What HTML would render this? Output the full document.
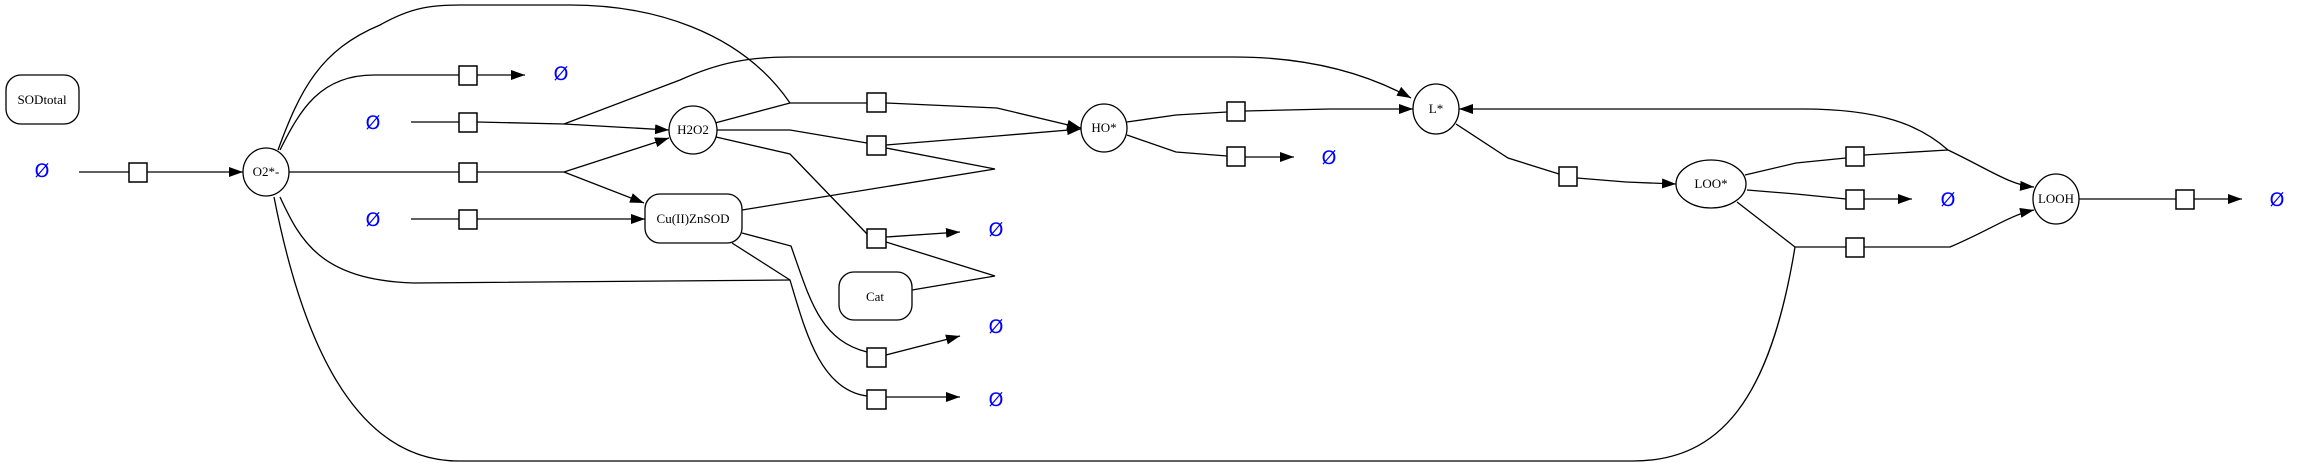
<!DOCTYPE html>
<html><head><meta charset="utf-8"><style>
html,body{margin:0;padding:0;background:#fff;}
svg{display:block;}
text{font-family:"Liberation Serif",serif;font-size:13px;}
.e{font-family:"DejaVu Sans","Liberation Sans",sans-serif;font-size:19px;fill:#0000ff;}
</style></head><body>
<svg width="2323" height="463" viewBox="0 0 2323 463" xmlns="http://www.w3.org/2000/svg">
<defs>
<marker id="a" viewBox="0 0 14 10" refX="14" refY="5" markerWidth="14" markerHeight="10" markerUnits="userSpaceOnUse" orient="auto">
<path d="M0,0 L14,5 L0,10 z" fill="#000"/></marker>
</defs>
<g fill="none" stroke="#000" stroke-width="1.3">
<!-- source to O2 -->
<path d="M79,172 L129,172 M146,172 L190,172"/>
<path d="M190,172 L243,172" marker-end="url(#a)"/>
<!-- O2 to top empty -->
<path d="M280,150 C300,110 320,75 374,75 L459,75 M477,75" />
<path d="M477,75 L525,75" marker-end="url(#a)"/>
<!-- empty to junction 564,124 -->
<path d="M411,122 L459,122 M477,122 L564,124"/>
<path d="M564,124 L669,130" marker-end="url(#a)"/>
<path d="M564,124 L680,80 C720,62 750,57 790,57 L1234,57 C1300,57 1360,70 1411,98" marker-end="url(#a)"/>
<!-- O2 to junction 564,172 -->
<path d="M289,172 L459,172 M477,172 L564,172"/>
<path d="M564,172 L669,138" marker-end="url(#a)"/>
<path d="M564,172 L644,203" marker-end="url(#a)"/>
<!-- empty to Cu box -->
<path d="M411,219 L459,219 M477,219 L560,219"/>
<path d="M560,219 L645,219" marker-end="url(#a)"/>
<!-- O2 top big curve -->
<path d="M278,150 C300,90 320,50 380,25 C410,8 430,5 460,5 L570,5 C650,5 740,30 790,103"/>
<!-- H2O2 to 790,103 -->
<path d="M715,123 L790,103 L867,103 M886,103 L997,108"/>
<path d="M997,108 L1081,128" marker-end="url(#a)"/>
<!-- H2O2 to 790,130 -->
<path d="M717,130 L790,130 L867,143 M886,145 L997,136"/>
<path d="M997,136 L1081,129" marker-end="url(#a)"/>
<path d="M886,148 L995,169 L742,210"/>
<!-- H2O2 lower -->
<path d="M716,137 L790,154 L868,235 M886,238"/>
<path d="M886,237 L960,232" marker-end="url(#a)"/>
<path d="M886,242 L995,276 L912,290"/>
<!-- Cu box to lower squares -->
<path d="M742,233 L791,246 C810,300 820,340 867,352 M886,355"/>
<path d="M886,355 L960,336" marker-end="url(#a)"/>
<path d="M280,197 C300,240 320,280 414,283 L790,280"/>
<path d="M732,243 L790,280 C805,330 820,390 867,396"/>
<path d="M886,397 L960,397" marker-end="url(#a)"/>
<!-- O2 bottom big curve -->
<path d="M274,197 C300,330 350,461 459,461 L1633,461 C1720,461 1770,400 1795,247"/>
<!-- HO* to L* -->
<path d="M1127,122 L1176,115 L1227,112 M1245,111 L1330,109"/>
<path d="M1330,109 L1413,109" marker-end="url(#a)"/>
<path d="M1127,135 L1176,152 L1227,156 M1245,157"/>
<path d="M1245,157 L1294,157" marker-end="url(#a)"/>
<!-- L* to LOO* -->
<path d="M1456,124 L1508,158 L1559,174 M1577,178 L1626,182"/>
<path d="M1626,182 L1676,184" marker-end="url(#a)"/>
<!-- LOO* outputs -->
<path d="M1745,175 L1796,163 L1846,158 M1864,155 L1948,150"/>
<path d="M1948,150 C1920,125 1880,109 1803,109 L1459,109" marker-end="url(#a)"/>
<path d="M1948,150 C1990,170 2010,185 2034,187" marker-end="url(#a)"/>
<path d="M1747,190 L1796,194 L1846,199 M1864,199"/>
<path d="M1864,199 L1912,199" marker-end="url(#a)"/>
<path d="M1737,202 L1795,247 L1846,247 M1864,247 L1950,247 C1990,230 2010,215 2034,210" marker-end="url(#a)"/>
<!-- LOOH out -->
<path d="M2079,199 L2176,199 M2194,199"/>
<path d="M2194,199 L2242,199" marker-end="url(#a)"/>
</g>
<!-- squares -->
<g fill="#fff" stroke="#000" stroke-width="1.5">
<rect x="129" y="163" width="18" height="19"/>
<rect x="459" y="66" width="18" height="19"/>
<rect x="459" y="113" width="18" height="19"/>
<rect x="459" y="163" width="18" height="19"/>
<rect x="459" y="210" width="18" height="19"/>
<rect x="867" y="93" width="19" height="19"/>
<rect x="867" y="136" width="19" height="19"/>
<rect x="867" y="229" width="19" height="19"/>
<rect x="867" y="348" width="19" height="19"/>
<rect x="867" y="390" width="19" height="19"/>
<rect x="1227" y="102" width="18" height="19"/>
<rect x="1227" y="147" width="18" height="19"/>
<rect x="1559" y="167" width="18" height="19"/>
<rect x="1846" y="147" width="18" height="19"/>
<rect x="1846" y="190" width="18" height="19"/>
<rect x="1846" y="238" width="18" height="19"/>
<rect x="2176" y="190" width="18" height="19"/>
</g>
<!-- nodes -->
<g fill="#fff" stroke="#000" stroke-width="1.3">
<rect x="6" y="75" width="73" height="49" rx="15"/>
<ellipse cx="266" cy="172" rx="23" ry="24"/>
<ellipse cx="693" cy="130" rx="24" ry="24"/>
<rect x="645" y="194" width="97" height="49" rx="15"/>
<rect x="839" y="272" width="73" height="48" rx="15"/>
<ellipse cx="1104" cy="128" rx="23" ry="24"/>
<ellipse cx="1436" cy="109" rx="23" ry="25"/>
<ellipse cx="1711" cy="184" rx="35" ry="24"/>
<ellipse cx="2056" cy="199" rx="23" ry="25"/>
</g>
<g text-anchor="middle" fill="#000">
<text x="42" y="104">SODtotal</text>
<text x="266" y="176">O2*-</text>
<text x="693" y="134">H2O2</text>
<text x="693" y="223">Cu(II)ZnSOD</text>
<text x="875" y="301">Cat</text>
<text x="1104" y="132">HO*</text>
<text x="1436" y="113">L*</text>
<text x="1711" y="188">LOO*</text>
<text x="2056" y="203">LOOH</text>
</g>
<g class="e" text-anchor="middle">
<text class="e" x="42" y="177">Ø</text>
<text class="e" x="561" y="80">Ø</text>
<text class="e" x="373" y="129">Ø</text>
<text class="e" x="373" y="226">Ø</text>
<text class="e" x="996" y="236">Ø</text>
<text class="e" x="996" y="333">Ø</text>
<text class="e" x="996" y="406">Ø</text>
<text class="e" x="1329" y="164">Ø</text>
<text class="e" x="1948" y="206">Ø</text>
<text class="e" x="2277" y="206">Ø</text>
</g>
</svg>
</body></html>
